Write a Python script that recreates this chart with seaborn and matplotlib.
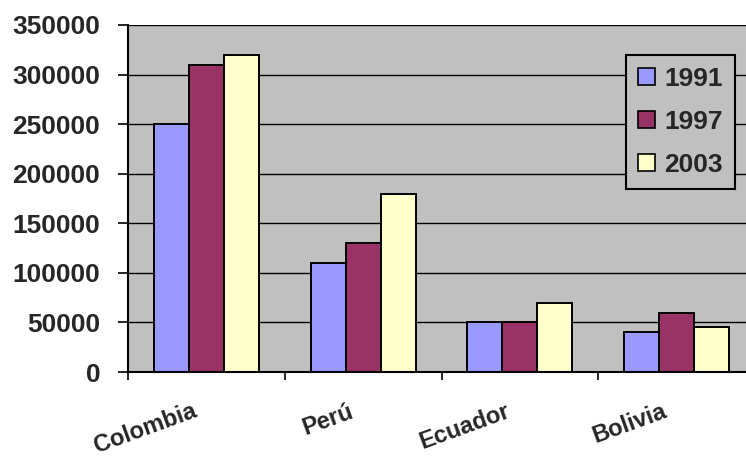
import matplotlib
matplotlib.use("Agg")
import matplotlib.pyplot as plt
from matplotlib.patches import Patch
from matplotlib.transforms import ScaledTranslation
import seaborn as sns
import pandas as pd

countries = ["Colombia", "Perú", "Ecuador", "Bolivia"]
years = ["1991", "1997", "2003"]
values_1991 = [250000, 110000, 50000, 40000]
values_1997 = [310000, 130000, 50000, 60000]
values_2003 = [320000, 180000, 70000, 45000]
colors = ["#9999FF", "#993366", "#FFFFCC"]
y_ticks = [0, 50000, 100000, 150000, 200000, 250000, 300000, 350000]

rows = []
for yr, vals in zip(years, [values_1991, values_1997, values_2003]):
    for c, v in zip(countries, vals):
        rows.append({"country": c, "year": yr, "value": v})
df = pd.DataFrame(rows)

sns.set_theme(style="white")
plt.rcParams["font.family"] = ["Liberation Sans", "DejaVu Sans"]
plt.rcParams["font.weight"] = "bold"

fig = plt.figure(figsize=(7.46, 4.59), dpi=100)
ax = fig.add_axes([128 / 746, 1 - 372 / 459, 627 / 746, 347 / 459])
ax.set_facecolor("#C0C0C0")

sns.barplot(data=df, x="country", y="value", hue="year", hue_order=years,
            order=countries, palette=colors, saturation=1, width=0.67,
            edgecolor="black", linewidth=1.4, ax=ax, legend=False)

ax.set_ylim(0, 350000)
ax.set_xlim(-0.5, 3.5)
ax.set_yticks(y_ticks)
ax.set_yticklabels([str(t) for t in y_ticks], fontsize=19, fontweight="bold")
ax.yaxis.grid(True, color="black", linewidth=1.0)
ax.set_axisbelow(True)
ax.set_xlabel("")
ax.set_ylabel("")

# category labels at centres, tick marks at category boundaries
ax.set_xticks(range(len(countries)))
ax.set_xticklabels(countries, rotation=20, ha="right", rotation_mode="anchor",
                   fontsize=17, fontweight="bold")
ax.tick_params(axis="x", which="major", length=0, pad=20)
shift = ScaledTranslation(-15 / 100, 0, fig.dpi_scale_trans)
for lab in ax.get_xticklabels():
    lab.set_transform(lab.get_transform() + shift)
ax.set_xticks([-0.5, 0.5, 1.5, 2.5], minor=True)
ax.tick_params(axis="x", which="minor", length=6, width=1.2, color="black",
               direction="out", bottom=True)
ax.tick_params(axis="y", length=7, width=1.2, color="black", direction="out",
               left=True, pad=13)

for side in ["top", "right"]:
    ax.spines[side].set_visible(False)
for side in ["left", "bottom"]:
    ax.spines[side].set_color("black")
    ax.spines[side].set_linewidth(1.5)

handles = [Patch(facecolor=c, edgecolor="black", linewidth=1.2) for c in colors]
leg = ax.legend(handles, years, loc="upper left",
                bbox_to_anchor=((626 - 128) / 627, (372 - 55) / 347),
                borderaxespad=0, frameon=True, fancybox=False,
                facecolor="#C0C0C0", edgecolor="black", framealpha=1,
                prop={"size": 19, "weight": "bold"}, handlelength=0.65,
                handleheight=0.65, handletextpad=0.35, labelspacing=0.72,
                borderpad=0.45)
leg.get_frame().set_linewidth(1.5)

fig.savefig("out.png", dpi=100, facecolor="white")
